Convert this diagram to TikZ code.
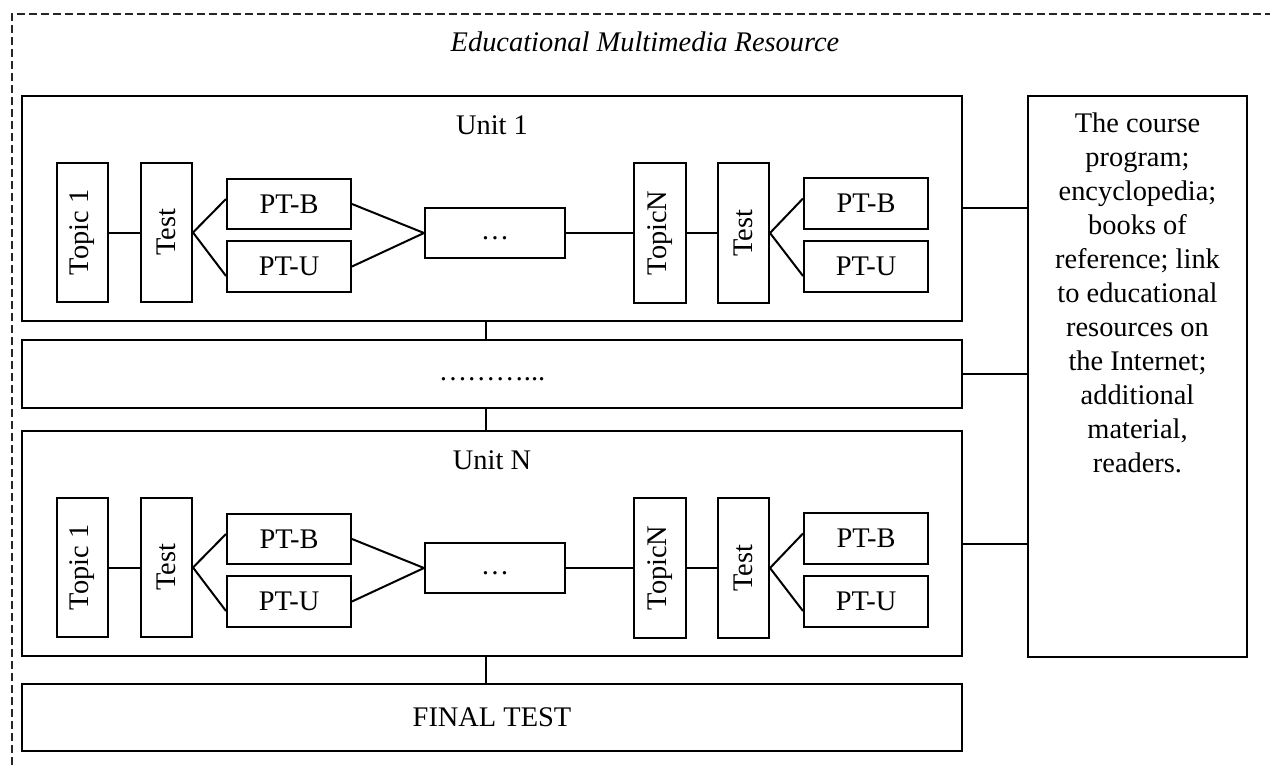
\documentclass[tikz,border=0pt]{standalone}
\usepackage{fontspec}
\setmainfont{Liberation Serif}
\tikzset{
  box/.style={draw, line width=1pt, inner sep=0pt, font=\fontsize{14.2}{17}\selectfont},
  plain/.style={inner sep=0pt, font=\fontsize{14.2}{17}\selectfont},
  link/.style={line width=1pt},
}
\begin{document}
\begin{tikzpicture}[x=0.5pt,y=0.5pt,yscale=-1]
    \useasboundingbox (0,0) rectangle (1270,765);
    \draw[black!85, line width=0.75pt, dash pattern=on 4pt off 2pt] (12,765) -- (12,14) -- (1270,14);
    \node[plain, font=\fontsize{14.2}{17}\selectfont\itshape] (title) at (645,42) {Educational Multimedia Resource};

    % unit 1
    \begin{scope}
    \node[box, minimum width=470pt, minimum height=112.5pt] (unitA) at (492,208.5) {};
    \node[plain] (unitlabelA) at (492,125) {Unit 1};
    \node[box, minimum width=25.5pt, minimum height=69.5pt] (topicA) at (82.5,232.5) {\rotatebox{90}{Topic 1}};
    \node[box, minimum width=25.5pt, minimum height=69.5pt] (testA) at (166.5,232.5) {\rotatebox{90}{Test}};
    \node[box, minimum width=62pt, minimum height=25pt] (ptbA) at (289,204) {PT-B};
    \node[box, minimum width=62pt, minimum height=25.5pt] (ptuA) at (289,266.5) {PT-U};
    \node[box, minimum width=70pt, minimum height=25pt] (dotsA) at (495,233) {\vphantom{Tg}…};
    \node[box, minimum width=26pt, minimum height=70pt] (topicNA) at (660,233) {\rotatebox{90}{TopicN}};
    \node[box, minimum width=25.5pt, minimum height=70pt] (testNA) at (743.5,233) {\rotatebox{90}{Test}};
    \node[box, minimum width=62pt, minimum height=25.5pt] (ptbNA) at (866,203.5) {PT-B};
    \node[box, minimum width=62pt, minimum height=25.5pt] (ptuNA) at (866,266.5) {PT-U};
    \draw[link] (topicA) -- (testA);
    \draw[link] (testA.east) -- ([yshift=-2.5pt]ptbA.west);
    \draw[link] (testA.east) -- ([yshift=4.75pt]ptuA.west);
    \draw[link] (ptbA.east) -- (dotsA.west);
    \draw[link] (ptuA.east) -- (dotsA.west);
    \draw[link] (dotsA) -- (topicNA);
    \draw[link] (topicNA) -- (testNA);
    \draw[link] (testNA.east) -- ([yshift=-2.5pt]ptbNA.west);
    \draw[link] (testNA.east) -- ([yshift=4.75pt]ptuNA.west);
    \end{scope}

    \node[box, minimum width=470pt, minimum height=34pt] (midbox) at (492,374) {\vphantom{Tg}………...};

    % unit N
    \begin{scope}[shift={(0,335)}]
    \node[box, minimum width=470pt, minimum height=112.5pt] (unitB) at (492,208.5) {};
    \node[plain] (unitlabelB) at (492,125) {Unit N};
    \node[box, minimum width=25.5pt, minimum height=69.5pt] (topicB) at (82.5,232.5) {\rotatebox{90}{Topic 1}};
    \node[box, minimum width=25.5pt, minimum height=69.5pt] (testB) at (166.5,232.5) {\rotatebox{90}{Test}};
    \node[box, minimum width=62pt, minimum height=25pt] (ptbB) at (289,204) {PT-B};
    \node[box, minimum width=62pt, minimum height=25.5pt] (ptuB) at (289,266.5) {PT-U};
    \node[box, minimum width=70pt, minimum height=25pt] (dotsB) at (495,233) {\vphantom{Tg}…};
    \node[box, minimum width=26pt, minimum height=70pt] (topicNB) at (660,233) {\rotatebox{90}{TopicN}};
    \node[box, minimum width=25.5pt, minimum height=70pt] (testNB) at (743.5,233) {\rotatebox{90}{Test}};
    \node[box, minimum width=62pt, minimum height=25.5pt] (ptbNB) at (866,203.5) {PT-B};
    \node[box, minimum width=62pt, minimum height=25.5pt] (ptuNB) at (866,266.5) {PT-U};
    \draw[link] (topicB) -- (testB);
    \draw[link] (testB.east) -- ([yshift=-2.5pt]ptbB.west);
    \draw[link] (testB.east) -- ([yshift=4.75pt]ptuB.west);
    \draw[link] (ptbB.east) -- (dotsB.west);
    \draw[link] (ptuB.east) -- (dotsB.west);
    \draw[link] (dotsB) -- (topicNB);
    \draw[link] (topicNB) -- (testNB);
    \draw[link] (testNB.east) -- ([yshift=-2.5pt]ptbNB.west);
    \draw[link] (testNB.east) -- ([yshift=4.75pt]ptuNB.west);
    \end{scope}

    \node[box, minimum width=470pt, minimum height=33.5pt] (final) at (492,717.5) {FINAL TEST};
    \node[box, minimum width=109.5pt, minimum height=280.5pt] (refs) at (1137.5,376.5) {};
    \node[plain, align=center] (refstext) at (1137.5,293) {The course\\program;\\encyclopedia;\\books of\\reference; link\\to educational\\resources on\\the Internet;\\additional\\material,\\readers.};

    \draw[link] ([xshift=-3pt]unitA.south) -- ([xshift=-3pt]midbox.north);
    \draw[link] ([xshift=-3pt]midbox.south) -- ([xshift=-3pt]unitB.north);
    \draw[link] ([xshift=-3pt]unitB.south) -- ([xshift=-3pt]final.north);
    \draw[link] (unitA.east) -- (unitA.east -| refs.west);
    \draw[link] (midbox.east) -- (midbox.east -| refs.west);
    \draw[link] (unitB.east) -- (unitB.east -| refs.west);
\end{tikzpicture}
\end{document}
